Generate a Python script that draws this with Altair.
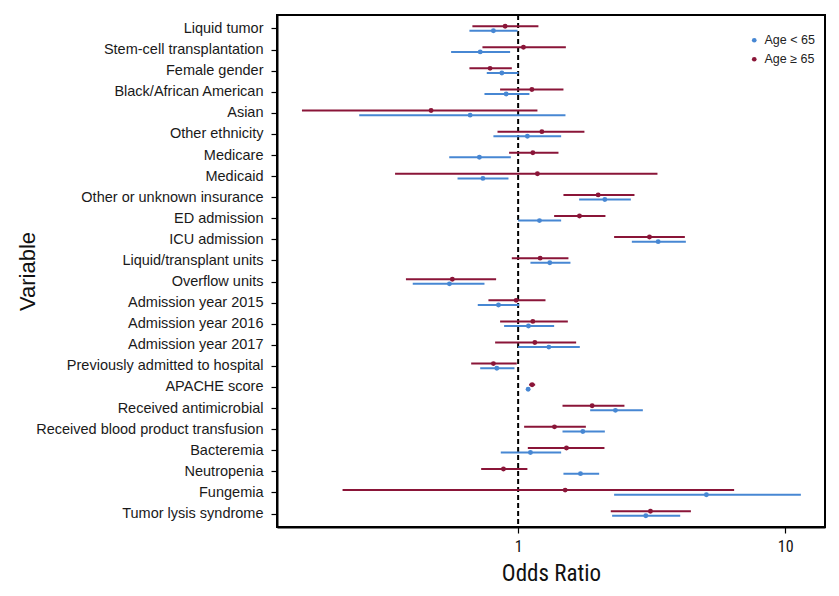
import altair as alt
import pandas as pd

categories = [
    "Liquid tumor", "Stem-cell transplantation", "Female gender", "Black/African American",
    "Asian", "Other ethnicity", "Medicare", "Medicaid", "Other or unknown insurance",
    "ED admission", "ICU admission", "Liquid/transplant units", "Overflow units",
    "Admission year 2015", "Admission year 2016", "Admission year 2017",
    "Previously admitted to hospital", "APACHE score", "Received antimicrobial",
    "Received blood product transfusion", "Bacteremia", "Neutropenia", "Fungemia",
    "Tumor lysis syndrome",
]

# Age < 65 (blue)
young_or = [0.808, 0.721, 0.869, 0.902, 0.661, 1.083, 0.716, 0.738, 2.112, 1.202, 3.345, 1.314,
            0.553, 0.844, 1.093, 1.303, 0.832, 1.090, 2.314, 1.747, 1.112, 1.712, 5.07, 3.007]
young_lo = [0.657, 0.561, 0.763, 0.748, 0.254, 0.808, 0.552, 0.593, 1.692, 1.000, 2.666, 1.112,
            0.403, 0.706, 0.886, 1.000, 0.721, 1.078, 1.861, 1.466, 0.861, 1.478, 2.288, 2.249]
young_hi = [0.995, 0.933, 1.003, 1.102, 1.504, 1.449, 0.939, 0.920, 2.643, 1.449, 4.247, 1.570,
            0.748, 1.009, 1.364, 1.702, 0.969, 1.102, 2.931, 2.112, 1.449, 2.011, 11.45, 4.045]

# Age >= 65 (dark red)
old_or = [0.894, 1.047, 0.785, 1.126, 0.472, 1.227, 1.135, 1.181, 1.994, 1.697, 3.103, 1.209,
          0.567, 0.983, 1.135, 1.155, 0.808, 1.128, 1.893, 1.368, 1.517, 0.881, 1.50, 3.13]
old_lo = [0.674, 0.735, 0.657, 0.856, 0.155, 0.837, 0.925, 0.346, 1.478, 1.364, 2.288, 0.947,
          0.380, 0.774, 0.856, 0.820, 0.667, 1.099, 1.466, 1.053, 1.087, 0.727, 0.220, 2.223]
old_hi = [1.191, 1.509, 0.947, 1.478, 1.181, 1.771, 1.416, 3.325, 2.727, 2.123, 4.211, 1.543,
          0.827, 1.266, 1.535, 1.649, 0.988, 1.158, 2.501, 1.793, 2.105, 1.083, 6.44, 4.436]

groups = ["Age < 65", "Age \u2265 65"]
colors = ["#4787d3", "#8a1538"]
x_ticks = [1, 10]
ref_line = [1]

rows = []
for i, c in enumerate(categories):
    rows.append({"var": c, "group": groups[0], "or": young_or[i], "lo": young_lo[i], "hi": young_hi[i]})
    rows.append({"var": c, "group": groups[1], "or": old_or[i], "lo": old_lo[i], "hi": old_hi[i]})
df = pd.DataFrame(rows)

narrow = "Liberation Sans Narrow, Roboto Condensed, DejaVu Sans Condensed, Liberation Sans"
regular = "Liberation Sans, Arial, Helvetica"

xscale = alt.Scale(type="log", domain=[0.125, 14.1], nice=False)
yscale = alt.Scale(type="point", padding=0.64)

x_axis = alt.Axis(values=x_ticks, format="~g", title="Odds Ratio", grid=False,
                  domain=True, domainColor="black", domainWidth=2,
                  tickSize=6, tickColor="black", tickWidth=1.2, labelFont=narrow, labelFontSize=16,
                  labelColor="#111", labelPadding=5, titleFont=narrow, titleFontSize=23,
                  titleFontWeight="normal", titleColor="#111", titlePadding=8)
y_axis = alt.Axis(title="Variable", grid=False, domain=True, domainColor="black", domainWidth=2,
                  tickSize=6, tickColor="black",
                  tickWidth=1.2, labelFont=regular, labelFontSize=14.5, labelColor="#1a1a1a",
                  labelPadding=8, labelLimit=400, titleFont=regular, titleFontSize=22,
                  titleFontWeight="normal", titleColor="#111", titleX=-250, titleY=256,
                  titleAlign="center", titleBaseline="middle", titleAngle=270)

base = alt.Chart(df)
layers = []
offsets = {groups[0]: 2.3, groups[1]: -2.3}
for g, col in zip(groups, colors):
    sub = base.transform_filter(alt.datum.group == g)
    layers.append(
        sub.mark_rule(color=col, strokeWidth=2, yOffset=offsets[g]).encode(
            x=alt.X("lo:Q", scale=xscale, axis=x_axis),
            x2="hi:Q",
            y=alt.Y("var:N", sort=categories, scale=yscale, axis=y_axis),
        )
    )
for g, col in zip(groups, colors):
    sub = base.transform_filter(alt.datum.group == g)
    layers.append(
        sub.mark_circle(size=24, opacity=1, yOffset=offsets[g]).encode(
            x=alt.X("or:Q", scale=xscale, axis=x_axis),
            y=alt.Y("var:N", sort=categories, scale=yscale, axis=y_axis),
            color=alt.Color("group:N", scale=alt.Scale(domain=groups, range=colors),
                            legend=alt.Legend(title=None, orient="none", legendX=471, legendY=19,
                                              symbolType="circle", symbolSize=22,
                                              labelFont=regular, labelFontSize=12.5,
                                              labelColor="#222", labelOffset=4,
                                              rowPadding=6, padding=0)),
        )
    )

ref = alt.Chart(pd.DataFrame({"v": ref_line})).mark_rule(
    color="black", strokeDash=[5, 3], strokeWidth=2
).encode(x=alt.X("v:Q", scale=xscale, axis=x_axis))

chart = alt.layer(ref, *layers).properties(
    width=548, height=512,
    autosize=alt.AutoSizeParams(type="none"),
    padding={"left": 269, "top": 7, "right": 6, "bottom": 61},
    background="white",
).configure_view(stroke="#000000", strokeWidth=2, strokeOpacity=1)

chart.save("out.html", embed_options={"renderer": "svg", "actions": False})
